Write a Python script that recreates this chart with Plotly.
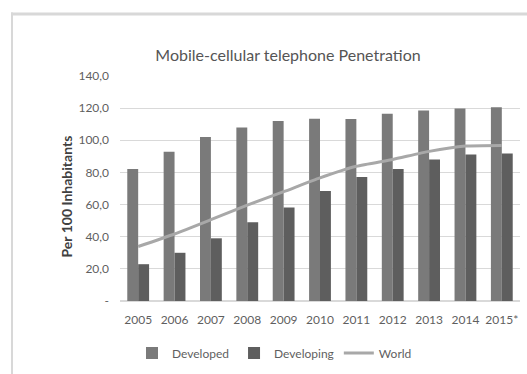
import plotly.graph_objects as go

years = ["2005", "2006", "2007", "2008", "2009", "2010", "2011", "2012", "2013", "2014", "2015*"]
developed = [82.1, 92.9, 102.0, 108.0, 112.0, 113.4, 113.3, 116.5, 118.5, 119.8, 120.6]
developing = [22.9, 30.0, 39.0, 49.0, 58.2, 68.4, 77.1, 82.1, 88.0, 91.2, 91.8]
world = [33.9, 41.7, 50.6, 59.7, 68.0, 76.6, 83.8, 88.1, 93.1, 96.4, 96.8]
y_ticks = [0, 20, 40, 60, 80, 100, 120, 140]
y_ticktext = ["-", "20,0", "40,0", "60,0", "80,0", "100,0", "120,0", "140,0"]

FONT = "Lato"
TXT = "#5f5f5f"

fig = go.Figure()
fig.add_trace(go.Bar(x=years, y=developed, name="Developed", marker=dict(color="#7a7a7a", line=dict(width=0))))
fig.add_trace(go.Bar(x=years, y=developing, name="Developing", marker=dict(color="#5e5e5e", line=dict(width=0))))
fig.add_trace(go.Scatter(x=years, y=world, name="World", mode="lines",
                         line=dict(color="#a8a8a8", width=3, shape="spline", smoothing=0.5)))

W, H = 527, 374
L, R, T, B = 120, 7, 76, 73
pw, ph = W - L - R, H - T - B

def px_x(v):
    return (v - L) / pw

def px_y(v):
    return (T + ph - v) / ph

fig.update_layout(
    width=W, height=H,
    margin=dict(l=L, r=R, t=T, b=B),
    paper_bgcolor="white", plot_bgcolor="white",
    barmode="group", bargap=0.40, bargroupgap=0,
    font=dict(family=FONT, color=TXT, size=12),
    title=dict(text="Mobile-cellular telephone Penetration", x=288 / W, xanchor="center",
               y=1 - 55 / H, yanchor="middle", font=dict(size=16, color="#555555", family=FONT)),
    xaxis=dict(showgrid=False, ticks="", tickfont=dict(size=12, color=TXT), showline=False,
               ticklabelstandoff=10),
    yaxis=dict(range=[0, 140], tickvals=y_ticks, ticktext=y_ticktext, showgrid=True,
               gridcolor="#d9d9d9", gridwidth=1, zeroline=True, zerolinecolor="#d9d9d9",
               tickfont=dict(size=12, color=TXT), ticklabelstandoff=10, showline=False),
    legend=dict(orientation="h", x=px_x(274.5), xanchor="center", y=px_y(353),
                yanchor="middle", font=dict(size=12, color=TXT), traceorder="normal"),
    showlegend=True,
)
fig.add_annotation(text="<b>Per 100 Inhabitants</b>", textangle=-90, xref="paper", yref="paper",
                   x=px_x(55), y=px_y(197), showarrow=False,
                   font=dict(size=14, color="#404040", family=FONT))
# chart frame (top and left edges) as thin filled strips
fig.add_shape(type="rect", xref="paper", yref="paper",
              x0=px_x(11), x1=px_x(527), y0=px_y(15.5), y1=px_y(12.5),
              fillcolor="#d8d8d8", line=dict(width=0))
fig.add_shape(type="rect", xref="paper", yref="paper",
              x0=px_x(11), x1=px_x(13), y0=px_y(374), y1=px_y(12.5),
              fillcolor="#d8d8d8", line=dict(width=0))

fig.write_html("out.html")
